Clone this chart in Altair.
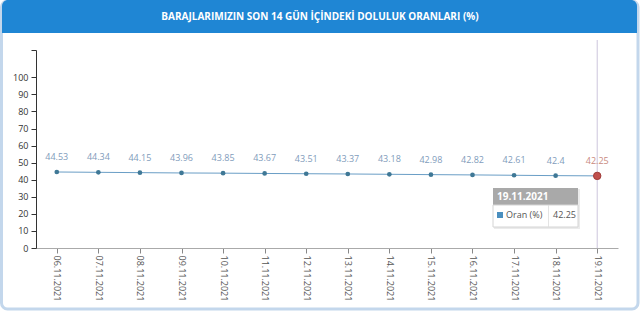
import altair as alt
import pandas as pd

dates = ["06.11.2021", "07.11.2021", "08.11.2021", "09.11.2021", "10.11.2021",
         "11.11.2021", "12.11.2021", "13.11.2021", "14.11.2021", "15.11.2021",
         "16.11.2021", "17.11.2021", "18.11.2021", "19.11.2021"]
values = [44.53, 44.34, 44.15, 43.96, 43.85, 43.67, 43.51, 43.37, 43.18, 42.98,
          42.82, 42.61, 42.4, 42.25]
y_ticks = [0, 10, 20, 30, 40, 50, 60, 70, 80, 90, 100, 116]
title_text = "BARAJLARIMIZIN SON 14 GÜN İÇİNDEKİ DOLULUK ORANLARI (%)"
series_name = "Oran (%)"

FONT = "Open Sans"
df = pd.DataFrame({"date": dates, "value": values,
                   "last": [i == len(dates) - 1 for i in range(len(dates))]})
last_df = df[df["last"]]
one = alt.Data(values=[{}])

# plot origin at absolute (36, 50); offsets below are relative to it
OX, OY = 36, 50

x_enc = alt.X("date:O", sort=dates,
              scale=alt.Scale(type="point", padding=0.5),
              axis=alt.Axis(title=None, labelAngle=90, labelAlign="left",
                            labelBaseline="middle", labelFontSize=9,
                            labelColor="#555555", labelFont=FONT,
                            domainColor="#aaaaaa", tickColor="#888888",
                            tickSize=5, labelPadding=2, grid=False, zindex=1))
y_enc = alt.Y("value:Q", scale=alt.Scale(domain=[0, 116], nice=False),
              axis=alt.Axis(title=None, values=y_ticks,
                            labelExpr="datum.value > 100 ? '' : datum.label",
                            labelFontSize=9, labelColor="#333333", labelFont=FONT,
                            domainColor="#333333", tickColor="#333333",
                            tickSize=5, labelPadding=3, grid=False, zindex=1))

def rect(x1, y1, x2, y2, **kw):
    return alt.Chart(one).mark_rect(**kw).encode(
        x=alt.value(x1 - OX), x2=alt.value(x2 - OX),
        y=alt.value(y1 - OY), y2=alt.value(y2 - OY))

def text(x, y, t, **kw):
    return alt.Chart(one).mark_text(**kw).encode(
        x=alt.value(x - OX), y=alt.value(y - OY), text=alt.value(t))

card = rect(1.5, 1, 638, 309, fill="white", stroke="#c3d7ec", strokeWidth=3,
            cornerRadius=6)
header = rect(2, 0, 637, 33, fill="#1f86d4", cornerRadius=6)
header_fix = rect(2, 16, 637, 33, fill="#1f86d4")
header_text = text(320, 17, title_text, color="white", font=FONT, fontSize=10,
                   fontWeight="bold", align="center", baseline="middle")

crosshair = alt.Chart(last_df).mark_rule(color="#cdc6dc", strokeWidth=1).encode(
    x=x_enc, y=alt.value(40 - OY), y2=alt.value(248 - OY))

line = alt.Chart(df).mark_line(color="#6a9ec6", strokeWidth=1).encode(x=x_enc, y=y_enc)
points = alt.Chart(df[~df["last"]]).mark_point(
    filled=True, size=22, color="#3f7896", opacity=1).encode(x=x_enc, y=y_enc)
last_pt = alt.Chart(last_df).mark_point(
    filled=True, size=55, color="#c0504d", stroke="#9e3a38", strokeWidth=1,
    opacity=1).encode(x=x_enc, y=y_enc)
labels = alt.Chart(df[~df["last"]]).mark_text(
    dy=-15, fontSize=9, font=FONT, color="#7f9cbb").encode(
    x=x_enc, y=y_enc, text=alt.Text("value:Q"))
last_label = alt.Chart(last_df).mark_text(
    dy=-15, fontSize=9, font=FONT, color="#c98a80").encode(
    x=x_enc, y=y_enc, text=alt.Text("value:Q"))

# tooltip box
tip_shadow = rect(494, 189, 580, 229, fill="#000000", opacity=0.08)
tip_head = rect(493, 188, 578, 205, fill="#a9a9a9")
tip_body = rect(493, 205, 578, 227, fill="white", stroke="#d4d4d4", strokeWidth=1)
tip_div = rect(548, 205, 548.8, 227, fill="#dddddd")
tip_marker = rect(497, 212, 503, 218, fill="#4a8fbf")
tip_date = text(497, 197, dates[-1], color="white", font=FONT, fontSize=10,
                fontWeight="bold", align="left", baseline="middle")
tip_name = text(506, 215, series_name, color="#555555", font=FONT, fontSize=9,
                align="left", baseline="middle")
tip_val = text(553, 215, str(values[-1]), color="#555555", font=FONT, fontSize=9,
               align="left", baseline="middle")

chart = alt.layer(
    card, header, header_fix, header_text,
    crosshair, line, points, last_pt, labels, last_label,
    tip_shadow, tip_head, tip_body, tip_div, tip_marker, tip_date, tip_name, tip_val,
).properties(
    width=582, height=198,
    autosize=alt.AutoSizeParams(type="none"),
    padding={"left": OX, "top": OY, "right": 22, "bottom": 65},
    background="white",
).configure_view(stroke=None)

chart.save("out.html", embed_options={"renderer": "svg", "actions": False})
